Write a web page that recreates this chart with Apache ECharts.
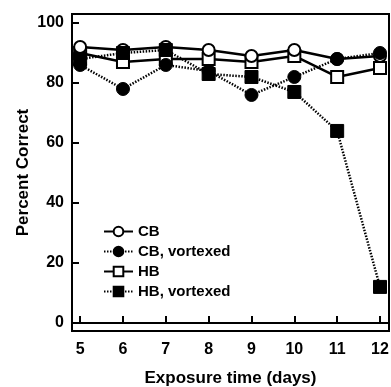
<!DOCTYPE html>
<html>
<head>
<meta charset="utf-8">
<script src="https://cdn.jsdelivr.net/npm/echarts@6/dist/echarts.min.js"></script>
<style>html,body{margin:0;padding:0;background:#fff}#c{width:391px;height:387px}</style>
</head>
<body>
<div id="c"></div>
<script>
const days = [5, 6, 7, 8, 9, 10, 11, 12];
const cb = [92, 91, 92, 91, 89, 91, 88, 89];
const cbVortexed = [86, 78, 86, 84, 76, 82, 88, 90];
const hb = [90, 87, 88, 88, 87, 89, 82, 85];
const hbVortexed = [88, 90, 91, 83, 82, 77, 64, 12];
const xTicks = [5, 6, 7, 8, 9, 10, 11, 12];
const yTicks = [0, 20, 40, 60, 80, 100];

const pair = arr => days.map((d, i) => [d, arr[i]]);
const font = 'Liberation Sans, Arial, Helvetica, sans-serif';

const chart = echarts.init(document.getElementById('c'), null, {renderer: 'canvas'});
const openStyle = {color: '#fff', borderColor: '#000', borderWidth: 2};
const fillStyle = {color: '#000', borderColor: '#000', borderWidth: 1};

chart.setOption({
  animation: false,
  backgroundColor: '#fff',
  grid: {left: 72, top: 14, width: 317, height: 317, show: true, borderColor: '#000', borderWidth: 2,
         backgroundColor: 'transparent', containLabel: false, outerBoundsMode: 'none'},
  xAxis: {
    type: 'value', min: 4.81, max: 12.21,
    name: 'Exposure time (days)', nameLocation: 'middle', nameGap: 39, nameMoveOverlap: false,
    nameTextStyle: {fontFamily: font, fontWeight: 'bold', fontSize: 17, color: '#000'},
    axisLine: {show: true, lineStyle: {color: '#000', width: 2}},
    axisTick: {show: true, inside: true, length: 7, lineStyle: {color: '#000', width: 2}, customValues: xTicks},
    axisLabel: {customValues: xTicks, margin: 11, fontFamily: font, fontWeight: 'bold', fontSize: 16, color: '#000'},
    splitLine: {show: false}
  },
  yAxis: {
    type: 'value', min: -2.7, max: 103,
    name: 'Percent Correct', nameLocation: 'middle', nameGap: 40, nameRotate: 90, nameMoveOverlap: false,
    nameTextStyle: {fontFamily: font, fontWeight: 'bold', fontSize: 17, color: '#000'},
    axisLine: {show: true, lineStyle: {color: '#000', width: 2}},
    axisTick: {show: true, inside: true, length: 7, lineStyle: {color: '#000', width: 2}, customValues: yTicks},
    axisLabel: {customValues: yTicks, margin: 8, fontFamily: font, fontWeight: 'bold', fontSize: 16, color: '#000'},
    splitLine: {show: false}
  },
  legend: {
    orient: 'vertical', left: 98, top: 219, itemWidth: 29, itemHeight: 12, itemGap: 5,
    textStyle: {fontFamily: font, fontWeight: 'bold', fontSize: 15, color: '#000', lineHeight: 14},
    data: ['CB', 'CB, vortexed', 'HB', 'HB, vortexed']
  },
  series: [
    {name: 'HB', type: 'line', data: pair(hb), symbol: 'rect', symbolSize: 12,
     lineStyle: {color: '#000', width: 2.5}, itemStyle: openStyle, z: 2},
    {name: 'CB', type: 'line', data: pair(cb), symbol: 'circle', symbolSize: 12,
     lineStyle: {color: '#000', width: 2.5}, itemStyle: openStyle, z: 3},
    {name: 'HB, vortexed', type: 'line', data: pair(hbVortexed), symbol: 'rect', symbolSize: 13,
     lineStyle: {color: '#000', width: 2.5, type: [1.5, 1.5]}, itemStyle: fillStyle, z: 4},
    {name: 'CB, vortexed', type: 'line', data: pair(cbVortexed), symbol: 'circle', symbolSize: 13,
     lineStyle: {color: '#000', width: 2.5, type: [1.5, 1.5]}, itemStyle: fillStyle, z: 5}
  ]
});
</script>
</body>
</html>
